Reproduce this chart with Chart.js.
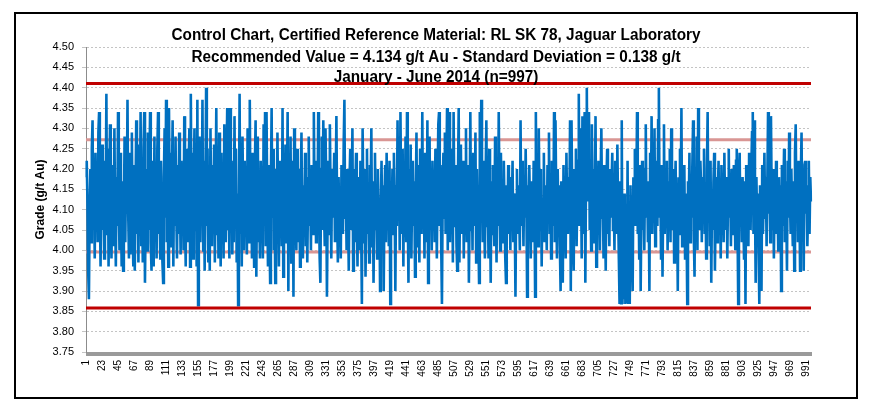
<!DOCTYPE html>
<html>
<head>
<meta charset="utf-8">
<script src="https://cdn.jsdelivr.net/npm/chart.js@4.4.1/dist/chart.umd.min.js"></script>
<style>
  html, body { margin: 0; padding: 0; background: #fff; }
  #wrap { width: 883px; height: 415px; }
</style>
</head>
<body>
<div id="wrap"><canvas id="controlchart" width="883" height="415"></canvas></div>
<script>
const titleLines = [
  "Control Chart, Certified Reference Material: RL SK 78, Jaguar Laboratory",
  "Recommended Value = 4.134 g/t Au - Standard Deviation = 0.138 g/t",
  "January - June 2014 (n=997)",
];
const yAxisTitle = "Grade (g/t Au)";

// grade of each CRM sample (25 per row)
const grades = [
  4.18,4.22,4.12,3.95,3.88,4.09,4.20,4.02,4.25,4.32,4.06,4.16,3.98,4.24,4.09,4.21,4.02,4.29,4.34,4.12,3.96,4.17,4.26,4.05,4.14,
  3.98,4.22,4.10,4.385,4.04,4.25,3.96,4.16,4.31,4.08,3.98,4.13,4.21,4.01,4.30,4.09,3.96,4.18,4.06,4.34,4.13,4.00,4.24,4.10,3.96,
  4.17,3.95,4.08,4.28,4.02,4.20,4.12,4.37,4.09,3.98,4.24,3.99,4.16,4.29,4.06,3.96,4.21,3.95,4.13,4.32,4.04,4.26,3.97,4.18,4.10,
  4.34,4.01,4.14,3.97,4.25,4.34,3.92,4.09,4.20,4.00,4.29,4.05,4.16,4.34,4.02,3.95,4.22,4.10,3.96,4.28,4.06,4.17,3.98,4.25,4.34,
  4.04,4.13,3.98,4.22,4.09,3.97,3.92,4.18,4.30,4.08,4.37,4.02,4.14,3.96,4.35,4.12,4.24,4.01,4.17,4.32,3.96,4.20,4.06,4.28,4.10,
  3.98,4.21,4.04,4.29,4.13,3.99,4.22,4.08,4.17,4.00,4.33,4.09,3.96,4.25,4.14,4.02,4.20,4.30,3.96,4.385,4.06,4.24,3.98,4.16,4.30,
  4.05,4.21,3.96,4.37,3.865,4.12,4.28,4.02,4.18,4.09,4.37,4.00,4.22,3.95,4.14,4.40,4.06,4.25,3.97,4.17,3.95,4.30,4.10,4.01,4.21,
  4.08,4.26,3.97,4.14,4.35,4.04,4.20,3.98,4.29,4.12,3.96,4.24,4.06,4.16,3.98,4.31,4.09,4.02,4.21,4.35,4.05,4.13,3.98,4.35,4.10,
  4.22,3.99,4.17,4.02,4.33,4.08,4.25,3.97,4.14,3.865,4.09,4.385,4.04,4.20,3.96,4.28,4.10,4.00,4.22,4.06,4.16,3.99,4.30,4.12,4.02,
  4.37,4.08,4.18,3.98,4.24,4.13,3.96,4.21,4.32,3.935,4.17,4.28,4.02,4.10,3.98,4.22,4.06,4.14,3.98,4.31,4.09,4.34,4.01,4.34,4.12,
  3.96,4.21,4.05,3.92,4.17,4.35,4.08,4.25,4.00,4.13,3.92,4.20,4.04,4.29,4.10,3.96,4.22,4.06,4.16,4.01,4.35,3.935,4.18,4.09,4.26,
  4.02,4.14,4.34,3.90,4.21,4.06,4.28,3.97,4.12,4.22,3.886,4.30,4.08,4.17,4.00,4.25,4.10,4.02,4.20,3.96,4.13,4.29,4.05,3.98,4.16,
  4.09,4.24,4.01,4.18,3.97,4.12,4.28,4.06,4.16,4.00,4.21,4.09,4.04,4.34,4.12,4.22,4.02,4.16,4.08,4.34,4.13,3.98,3.92,4.20,4.28,
  4.05,4.32,4.10,4.01,4.30,4.17,3.886,4.09,4.22,4.04,4.31,4.14,3.98,4.20,4.08,4.13,4.24,4.02,4.16,4.33,4.09,3.97,4.18,4.06,4.12,
  3.98,4.21,4.10,4.04,4.26,4.37,4.08,4.14,4.00,4.20,4.09,3.95,4.17,4.25,4.05,4.12,4.30,3.95,4.20,4.02,4.14,4.24,4.08,3.96,4.18,
  4.10,4.00,4.22,4.06,3.868,4.30,4.13,4.02,4.20,3.935,4.09,4.25,4.04,4.16,3.97,4.21,4.12,4.30,4.01,4.17,3.92,4.09,4.24,4.05,4.14,
  3.98,4.20,4.08,4.13,3.90,4.10,4.22,4.04,4.16,3.90,4.12,4.21,4.02,4.24,4.09,4.17,4.01,4.22,3.868,4.14,4.08,4.20,4.04,4.24,4.12,
  3.90,4.16,4.06,4.32,4.09,4.21,4.00,4.34,4.12,4.04,4.25,3.96,4.18,4.08,4.28,4.02,4.34,4.10,3.92,4.20,4.05,4.26,3.98,4.14,4.22,
  4.06,4.17,3.935,4.12,4.29,4.01,4.21,4.09,3.97,4.25,4.13,4.04,4.34,4.08,4.18,3.98,4.24,4.10,4.02,4.32,3.92,4.16,4.28,4.05,4.13,
  4.00,4.22,4.09,4.18,4.02,4.25,4.12,3.98,4.17,4.31,4.34,4.06,4.21,4.01,3.868,4.14,4.24,4.08,4.29,4.04,4.18,4.35,4.00,4.22,4.34,
  4.02,4.17,4.09,4.25,3.97,4.34,4.12,4.06,4.21,4.01,3.95,4.18,4.35,3.97,4.14,4.26,4.04,4.10,4.22,3.98,4.16,4.08,4.30,4.02,4.13,
  4.21,3.92,4.09,4.34,4.05,4.17,4.00,4.24,4.12,4.06,4.29,3.97,4.20,4.10,4.04,3.92,4.34,4.08,4.37,4.14,4.02,4.22,4.09,3.98,4.18,
  4.32,4.06,4.13,3.98,4.25,4.10,3.92,4.17,4.04,4.21,4.09,4.01,4.28,4.12,3.97,4.20,4.06,4.34,4.14,4.00,4.24,4.08,4.17,4.02,4.22,
  4.10,3.98,3.92,4.16,4.06,4.21,4.04,4.13,4.00,4.18,4.09,4.22,4.02,4.14,4.08,3.886,4.12,4.20,4.04,4.16,4.10,4.00,4.32,4.06,4.22,
  4.13,4.01,4.18,4.08,4.25,4.12,3.886,4.16,4.05,4.21,4.09,3.98,4.17,4.10,4.02,4.22,4.13,3.886,4.34,4.09,4.17,4.01,4.30,4.12,4.05,
  4.20,3.96,4.13,4.08,4.24,4.02,4.16,4.10,4.00,4.21,4.09,4.29,4.04,4.14,3.98,4.22,4.12,4.06,4.34,4.02,4.32,4.13,3.98,4.20,4.08,
  4.16,4.01,3.90,4.17,4.09,3.92,4.21,4.05,4.13,3.98,4.24,4.10,4.04,4.18,4.08,4.32,3.90,4.32,4.12,4.02,3.95,4.20,4.09,4.25,4.01,
  4.14,4.22,4.385,4.06,4.30,4.17,3.98,4.33,4.10,4.04,4.34,3.92,4.20,4.40,4.12,4.22,4.34,4.05,4.16,4.00,4.31,4.09,4.20,4.02,4.13,
  4.33,3.96,4.14,4.06,4.22,4.10,4.00,4.18,4.30,4.08,4.13,3.98,4.21,4.09,3.95,4.17,4.25,4.04,4.12,4.01,4.20,4.08,4.16,4.24,4.05,
  4.13,4.00,4.22,4.09,4.04,4.26,4.10,3.98,3.868,4.17,3.87,4.32,3.868,4.08,3.88,4.14,3.868,4.02,3.87,4.22,3.868,4.09,3.868,4.16,4.04,
  4.01,3.90,4.18,4.09,4.25,4.06,4.13,4.34,4.04,4.16,3.98,4.21,3.90,4.10,4.22,4.05,4.14,4.00,4.20,4.31,4.08,4.17,4.02,4.12,3.90,
  4.24,4.09,4.33,4.04,4.18,4.10,4.30,4.01,4.22,4.13,4.06,4.32,4.40,4.08,4.16,3.98,4.21,3.935,4.12,4.31,4.04,4.14,4.09,4.22,4.00,
  4.17,4.08,4.25,4.02,4.30,4.12,4.05,4.20,3.97,4.14,4.22,4.06,4.10,3.90,4.18,4.04,4.25,4.13,4.35,4.01,4.16,4.09,4.21,3.98,4.14,
  4.06,3.868,4.17,4.10,4.24,4.02,4.13,4.08,4.21,4.32,4.04,3.935,4.20,4.09,4.28,4.00,4.35,4.12,4.05,4.22,4.16,4.02,4.18,4.09,4.25,
  4.04,4.13,3.98,4.20,4.34,4.08,4.16,4.01,4.22,3.92,4.12,4.05,4.17,4.24,3.95,4.10,4.18,4.02,4.14,4.22,4.06,4.13,3.98,4.21,4.09,
  4.16,4.02,4.24,4.10,4.05,4.18,3.98,4.13,4.25,4.08,4.17,4.01,4.20,4.09,4.04,4.21,4.13,4.00,4.22,4.25,4.08,3.868,4.16,4.24,4.06,
  4.12,4.02,4.18,4.09,3.98,4.17,3.868,4.21,4.08,4.14,4.01,4.24,4.10,4.05,4.20,4.29,4.34,4.04,4.32,4.12,3.92,4.18,4.06,4.14,4.00,
  3.868,4.16,4.09,3.90,4.21,4.04,4.13,4.24,4.08,4.18,4.01,4.16,4.34,4.09,4.22,4.02,4.33,4.13,4.05,4.20,3.98,4.14,4.08,4.22,4.04,
  4.12,4.00,4.18,4.09,4.16,3.90,4.21,4.06,4.13,4.25,4.02,4.17,4.10,3.95,4.22,4.08,4.29,4.14,4.04,4.20,4.10,4.01,4.17,3.95,4.24,
  4.31,4.08,4.14,4.02,4.22,4.12,3.95,4.18,4.29,4.06,4.13,3.95,4.21,4.22,4.09,4.16,4.01,4.10,4.22,4.04,4.18,4.12,
];
const sampleNumbers = grades.map((_, i) => i + 1);
const labelStep = 22;

// +2SD, +1SD, recommended value, -1SD, -2SD
const limitNames = ["+2SD", "+1SD", "Recommended", "-1SD", "-2SD"];
const limitValues = [4.41, 4.272, 4.134, 3.996, 3.858];

const yMin = 3.75;
const yMax = 4.5;
const yStep = 0.05;

const FONT = "'Liberation Sans', Arial, sans-serif";
Chart.defaults.font.family = FONT;
Chart.defaults.color = "#000";

const flat = (v) => sampleNumbers.map(() => v);

const framePlugin = {
  id: "frameAndTitle",
  beforeDraw(chart) {
    const ctx = chart.ctx;
    ctx.save();
    ctx.fillStyle = "#fff";
    ctx.fillRect(0, 0, chart.width, chart.height);
    ctx.lineWidth = 2;
    ctx.strokeStyle = "#000";
    ctx.strokeRect(15, 13, 842, 385);
    ctx.restore();
  },
  afterDraw(chart) {
    const ctx = chart.ctx;
    ctx.save();
    ctx.font = "bold 16px " + FONT;
    ctx.fillStyle = "#000";
    const squeeze = 529 / ctx.measureText(titleLines[0]).width;
    const baselines = [39.5, 61.5, 82];
    titleLines.forEach((line, i) => {
      ctx.save();
      ctx.translate(436, baselines[i]);
      ctx.scale(squeeze, 1);
      ctx.textAlign = "center";
      ctx.textBaseline = "alphabetic";
      ctx.fillText(line, 0, 0);
      ctx.restore();
    });
    ctx.restore();
  },
};

const limitStyle = [
  { color: "#C00000", width: 3, order: 0 },
  { color: "#D99694", width: 3, order: 2 },
  { color: "#808080", width: 1.5, order: 2 },
  { color: "#D99694", width: 3, order: 2 },
  { color: "#C00000", width: 3, order: 0 },
];

const ctx = document.getElementById("controlchart").getContext("2d");

new Chart(ctx, {
  type: "line",
  data: {
    labels: sampleNumbers,
    datasets: [
      {
        label: "Grade",
        data: grades,
        borderColor: "#0070C0",
        borderWidth: 2.6,
        pointRadius: 0,
        tension: 0,
        order: 1,
      },
      ...limitValues.map((v, i) => ({
        label: limitNames[i],
        data: flat(v),
        borderColor: limitStyle[i].color,
        borderWidth: limitStyle[i].width,
        pointRadius: 0,
        order: limitStyle[i].order,
      })),
    ],
  },
  options: {
    responsive: false,
    animation: false,
    events: [],
    layout: {
      padding: { top: 47, left: 30, right: 72, bottom: 0 },
    },
    scales: {
      x: {
        grid: {
          drawOnChartArea: false,
          tickLength: 4,
          color: "#9a9a9a",
        },
        border: { color: "#9a9a9a" },
        ticks: {
          autoSkip: false,
          minRotation: 90,
          maxRotation: 90,
          padding: 4,
          font: { size: 10 },
          callback: (v, i) => (i % labelStep === 0 ? String(sampleNumbers[i]) : ""),
        },
        afterFit: (scale) => {
          scale.height = 63;
        },
      },
      y: {
        min: yMin,
        max: yMax,
        ticks: {
          stepSize: yStep,
          padding: 8,
          font: { size: 11 },
          callback: (v) => Number(v).toFixed(2),
        },
        grid: {
          color: "#c4c4c4",
          tickLength: 4,
        },
        border: { color: "#8c8c8c", dash: [2, 2] },
        title: {
          display: true,
          text: yAxisTitle,
          font: { size: 12, weight: "bold" },
          padding: { top: 3, bottom: 0 },
        },
        afterFit: (scale) => {
          scale.width = 56;
        },
      },
    },
    plugins: {
      legend: { display: false },
      tooltip: { enabled: false },
      title: { display: false },
    },
  },
  plugins: [framePlugin],
});
</script>
</body>
</html>
